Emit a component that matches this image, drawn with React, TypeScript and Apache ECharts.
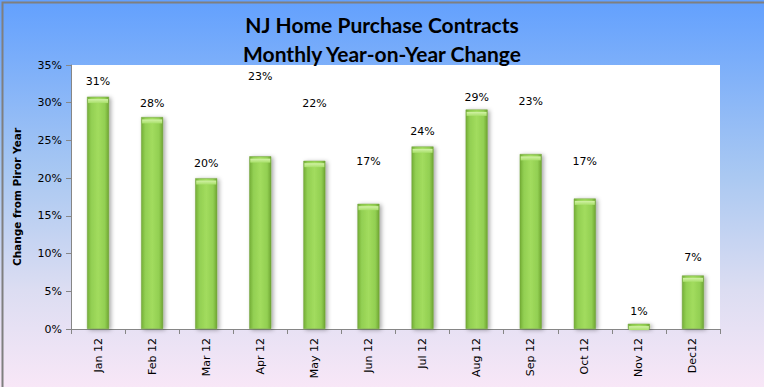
import React, { useEffect, useRef } from "react";
import * as echarts from "echarts";

const categories = ["Jan 12", "Feb 12", "Mar 12", "Apr 12", "May 12", "Jun 12", "Jul 12", "Aug 12", "Sep 12", "Oct 12", "Nov 12", "Dec12"];
const yoyChange = [30.8, 28.1, 20.0, 22.9, 22.3, 16.6, 24.2, 29.1, 23.2, 17.3, 0.7, 7.1];
const labelDistances = [10, 8, 9, 74, 52, 37, 9, 7, 47, 32, 7, 12];
const titleLines = ["NJ Home Purchase Contracts", "Monthly Year-on-Year Change"];
const yAxisName = "Change from Piror Year";

export default function App() {
  const ref = useRef<HTMLDivElement>(null);
  useEffect(() => {
    if (!ref.current) return;
    const chart = echarts.init(ref.current, null, { renderer: "svg" });
    const barFill = new echarts.graphic.LinearGradient(0, 0, 1, 0, [
      { offset: 0, color: "#74AE36" },
      { offset: 0.18, color: "#92CF52" },
      { offset: 0.5, color: "#A2DC5E" },
      { offset: 0.82, color: "#92CF52" },
      { offset: 1, color: "#6FA632" },
    ]);
    const capFill = new echarts.graphic.LinearGradient(0, 0, 0, 1, [
      { offset: 0, color: "#D2F2A6" },
      { offset: 1, color: "#A8DF6A" },
    ]);
    chart.setOption({
      animation: false,
      backgroundColor: new echarts.graphic.LinearGradient(0, 0, 0, 1, [
        { offset: 0, color: "#62A0FE" },
        { offset: 0.45, color: "#A9C8F2" },
        { offset: 0.75, color: "#DCDDF2" },
        { offset: 1, color: "#F8E7F7" },
      ]),
      title: {
        text: titleLines.join("\n"),
        left: "center",
        top: 5,
        textStyle: {
          fontFamily: "Lato",
          fontWeight: "bold",
          fontSize: 21,
          lineHeight: 29,
          color: "#000",
        },
      },
      graphic: [
        {
          type: "rect",
          left: 0,
          top: 0,
          shape: { width: 763, height: 386 },
          style: { fill: "none", stroke: "#7F7F7F", lineWidth: 2 },
          silent: true,
          z: 100,
        },
      ],
      grid: {
        left: 71,
        right: 44,
        top: 65,
        bottom: 58,
        show: true,
        backgroundColor: "#FFFFFF",
        borderWidth: 0,
      },
      xAxis: {
        type: "category",
        data: categories,
        axisLine: { show: true, lineStyle: { color: "#868686", width: 1 } },
        axisTick: { show: true, alignWithLabel: false, length: 5, lineStyle: { color: "#868686" } },
        axisLabel: {
          rotate: 90,
          margin: 9,
          fontFamily: "DejaVu Sans",
          fontSize: 11,
          color: "#000",
        },
        splitLine: { show: false },
      },
      yAxis: {
        type: "value",
        min: 0,
        max: 35,
        interval: 5,
        name: yAxisName,
        nameLocation: "middle",
        nameGap: 49,
        nameTextStyle: {
          fontFamily: "DejaVu Sans",
          fontWeight: "bold",
          fontSize: 10.5,
          color: "#000",
        },
        axisLine: { show: true, lineStyle: { color: "#868686", width: 1 } },
        axisTick: { show: true, length: 5, lineStyle: { color: "#868686" } },
        axisLabel: {
          margin: 9,
          fontFamily: "DejaVu Sans",
          fontSize: 11,
          color: "#000",
          formatter: (v: number) => v + "%",
        },
        splitLine: { show: false },
      },
      series: [
        {
          type: "bar",
          data: yoyChange.map((v, i) => ({
            value: v,
            label: { distance: labelDistances[i] },
          })),
          barWidth: 22,
          itemStyle: {
            color: barFill,
            borderColor: "#6E9F3A",
            borderWidth: 0.5,
            shadowBlur: 4,
            shadowColor: "rgba(0,0,0,0.35)",
            shadowOffsetX: 2,
            shadowOffsetY: 1,
          },
          label: {
            show: true,
            position: "top",
            fontFamily: "DejaVu Sans",
            fontSize: 11,
            color: "#000",
            formatter: (p: any) => Math.round(p.value) + "%",
          },
          z: 2,
        },
        {
          type: "pictorialBar",
          data: yoyChange,
          symbol: "rect",
          symbolSize: [20, 4],
          symbolPosition: "end",
          symbolOffset: [0, "60%"],
          itemStyle: { color: capFill },
          silent: true,
          z: 3,
        },
      ],
    });
    return () => chart.dispose();
  }, []);
  return (
    <div
      ref={ref}
      style={{ position: "fixed", left: 0, top: 0, width: 764, height: 387 }}
    />
  );
}
